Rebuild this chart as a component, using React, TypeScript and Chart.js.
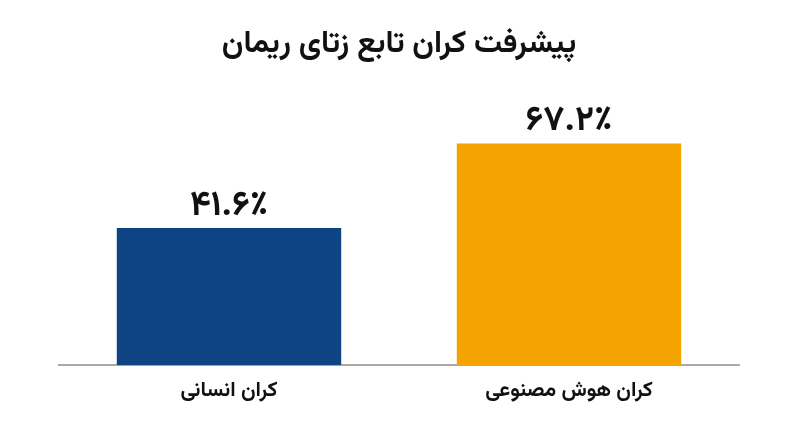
import React, { useEffect, useRef } from 'react';
import { Chart, registerables } from 'chart.js';

Chart.register(...registerables);

const TITLE = 'پیشرفت کران تابع زتای ریمان';
const categories = ['کران انسانی', 'کران هوش مصنوعی'];
const values = [41.6, 67.2];
const valueLabels = ['۴۱.۶٪', '۶۷.۲٪'];
const barColors = ['#0e4384', '#f5a300'];

const FONT = 'Vazirmatn, "Noto Sans Arabic", "DejaVu Sans", sans-serif';

export default function App() {
  const canvasRef = useRef<HTMLCanvasElement>(null);

  useEffect(() => {
    document.body.style.margin = '0';
    if (!canvasRef.current) return;

    // values drawn above each bar
    const valueLabelPlugin = {
      id: 'valueLabels',
      afterDatasetsDraw(chart: any) {
        const { ctx } = chart;
        ctx.save();
        ctx.font = `bold 35px ${FONT}`;
        ctx.fillStyle = '#111111';
        ctx.textAlign = 'center';
        ctx.textBaseline = 'bottom';
        chart.getDatasetMeta(0).data.forEach((bar: any, i: number) => {
          ctx.fillText(valueLabels[i], bar.x, bar.y - 1);
        });
        ctx.restore();
      },
    };

    const chart = new Chart(canvasRef.current, {
      type: 'bar',
      data: {
        labels: categories,
        datasets: [
          {
            data: values,
            backgroundColor: barColors,
            borderWidth: 0,
            categoryPercentage: 1,
            barPercentage: 0.66,
          },
        ],
      },
      plugins: [valueLabelPlugin],
      options: {
        animation: false,
        responsive: false,
        devicePixelRatio: 1,
        layout: {
          padding: { left: 59, right: 61, top: 0, bottom: 27.5 },
        },
        plugins: {
          legend: { display: false },
          tooltip: { enabled: false },
          title: {
            display: true,
            text: TITLE,
            color: '#111111',
            font: { family: FONT, size: 31, weight: 'bold', lineHeight: 1.2 },
            padding: { top: 29, bottom: 35 },
          },
        },
        scales: {
          x: {
            grid: { display: false, drawTicks: false },
            border: { display: true, color: '#aaaaaa', width: 2 },
            ticks: {
              color: '#111111',
              padding: 14.5,
              font: { family: FONT, size: 21, weight: 'bold', lineHeight: 1.2 },
            },
          },
          y: {
            display: false,
            min: 0,
            max: 80,
          },
        },
      },
    });

    return () => {
      chart.destroy();
    };
  }, []);

  return (
    <div style={{ width: 800, height: 447, background: '#ffffff' }}>
      <canvas ref={canvasRef} width={800} height={447}></canvas>
    </div>
  );
}
